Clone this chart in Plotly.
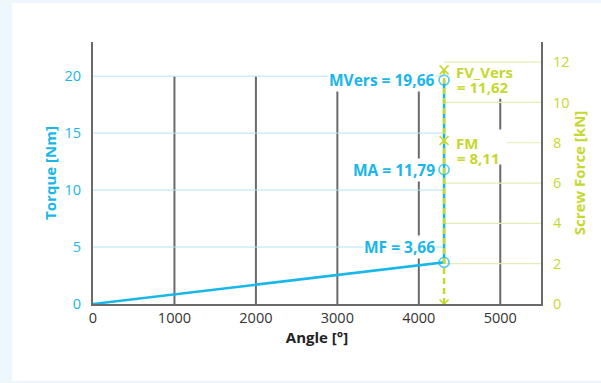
import plotly.graph_objects as go

# ---- data ----
angle = [0, 4310, 4310, 4310]
torque = [0, 3.66, 11.79, 19.66]
force_angle = [4310, 4310, 4310]
force = [0, 8.11, 11.62]

x_ticks = [0, 1000, 2000, 3000, 4000, 5000]
torque_ticks = [0, 5, 10, 15, 20]
force_ticks = [0, 2, 4, 6, 8, 10, 12]

torque_labels = ["MF = 3,66", "MA = 11,79", "MVers = 19,66"]
force_names = ["FM", "FV_Vers"]
force_values = ["= 8,11", "= 11,62"]

BLUE = "#19b6ea"
GREEN = "#c5d82d"
GRID_BLUE = "#b5e3f6"
GRID_GREEN = "#e3ecb3"
AX = "#6a6a6a"
FONT = "Open Sans"

x_end = angle[-1]
X_MAX, Y_MAX, Y2_MAX = 5500, 23, 13

fig = go.Figure()

fig.add_trace(go.Scatter(
    x=angle, y=torque, mode="lines+markers",
    line=dict(color=BLUE, width=2.5),
    marker=dict(symbol="circle-open", size=[0, 10, 10, 10], color=BLUE,
                line=dict(width=1.8, color=BLUE)),
    showlegend=False, hoverinfo="skip"))

fig.add_trace(go.Scatter(
    x=force_angle, y=force, yaxis="y2", mode="lines+markers",
    line=dict(color=GREEN, width=2.5, dash="6px,4px"),
    marker=dict(symbol="x-thin-open", size=9, color=GREEN,
                line=dict(width=1.6, color=GREEN)),
    showlegend=False, hoverinfo="skip"))

shapes = []
# white card on light blue page
shapes.append(dict(type="rect", xref="paper", yref="paper",
                   x0=-0.1808, x1=1.2, y0=-0.294, y1=1.149,
                   fillcolor="white", line=dict(width=0), layer="below"))
# vertical grid
for xv in x_ticks[1:]:
    shapes.append(dict(type="line", xref="x", yref="y", x0=xv, x1=xv,
                       y0=0, y1=torque_ticks[-1],
                       line=dict(color=AX, width=2), layer="below"))
# left horizontal grid
for yv in torque_ticks[1:]:
    shapes.append(dict(type="line", xref="x", yref="y", x0=0, x1=x_end,
                       y0=yv, y1=yv, line=dict(color=GRID_BLUE, width=1),
                       layer="below"))
# right horizontal grid
for yv in force_ticks[1:]:
    shapes.append(dict(type="line", xref="x", yref="y2", x0=x_end, x1=X_MAX,
                       y0=yv, y1=yv, line=dict(color=GRID_GREEN, width=1.2),
                       layer="below"))
# white backing boxes behind the two-line force labels (pixel-sized, anchored at the points)
box_px = [(3, 63, -24, 11), (3, 76, -29, 6)]
for xv, yv, (bx0, bx1, by0, by1) in zip(force_angle[1:], force[1:], box_px):
    shapes.append(dict(type="rect", xref="x", yref="y2",
                       xsizemode="pixel", ysizemode="pixel",
                       xanchor=xv, yanchor=yv, x0=bx0, x1=bx1, y0=by0, y1=by1,
                       fillcolor="white", line=dict(width=0), layer="below"))

annotations = []
tshift = [15, 0, 0]
for xv, yv, txt, ys in zip(angle[1:], torque[1:], torque_labels, tshift):
    annotations.append(dict(x=xv, y=yv, xref="x", yref="y", text=f"<b>{txt}</b>",
                            showarrow=False, xanchor="right", yanchor="middle",
                            xshift=-8, yshift=ys, bgcolor="white", borderpad=0,
                            font=dict(family=FONT, size=15.5, color=BLUE)))
for xv, yv, nm, val in zip(force_angle[1:], force[1:], force_names, force_values):
    annotations.append(dict(x=xv, y=yv, xref="x", yref="y2", text=f"<b>{nm}</b>",
                            showarrow=False, xanchor="left", yanchor="middle",
                            align="left", xshift=11, yshift=-2, borderpad=0,
                            font=dict(family=FONT, size=15, color=GREEN)))
    annotations.append(dict(x=xv, y=yv, xref="x", yref="y2", text=f"<b>{val}</b>",
                            showarrow=False, xanchor="left", yanchor="middle",
                            align="left", xshift=12, yshift=-17, borderpad=0,
                            font=dict(family=FONT, size=15, color=GREEN)))

fig.update_layout(
    width=601, height=383,
    margin=dict(l=93, r=60, t=42, b=79),
    paper_bgcolor="#edf7fd", plot_bgcolor="rgba(0,0,0,0)",
    font=dict(family=FONT),
    shapes=shapes, annotations=annotations,
    xaxis=dict(range=[0, X_MAX], tickvals=x_ticks, showgrid=False, zeroline=False,
               showline=True, linecolor=AX, linewidth=2,
               ticks="",
               tickfont=dict(size=14.5, color="#333333", family=FONT),
               title=dict(text="<b>Angle [°]</b>", standoff=6,
                          font=dict(size=15, color="#222222", family=FONT))),
    yaxis=dict(range=[0, Y_MAX], tickvals=torque_ticks, showgrid=False, zeroline=False,
               showline=True, linecolor=AX, linewidth=2,
               ticks="outside", ticklen=7, tickcolor="rgba(0,0,0,0)",
               tickfont=dict(size=14.5, color=BLUE, family=FONT),
               title=dict(text="<b>Torque [Nm]</b>", standoff=4,
                          font=dict(size=15, color=BLUE, family=FONT))),
    yaxis2=dict(range=[0, Y2_MAX], tickvals=force_ticks, overlaying="y", side="right",
                showgrid=False, zeroline=False,
                showline=True, linecolor=AX, linewidth=2,
                ticks="outside", ticklen=7, tickcolor="rgba(0,0,0,0)",
                tickfont=dict(size=14.5, color=GREEN, family=FONT),
                title=dict(text="<b>Screw Force [kN]</b>", standoff=5,
                           font=dict(size=15, color=GREEN, family=FONT))),
)

fig.write_html("out.html")
